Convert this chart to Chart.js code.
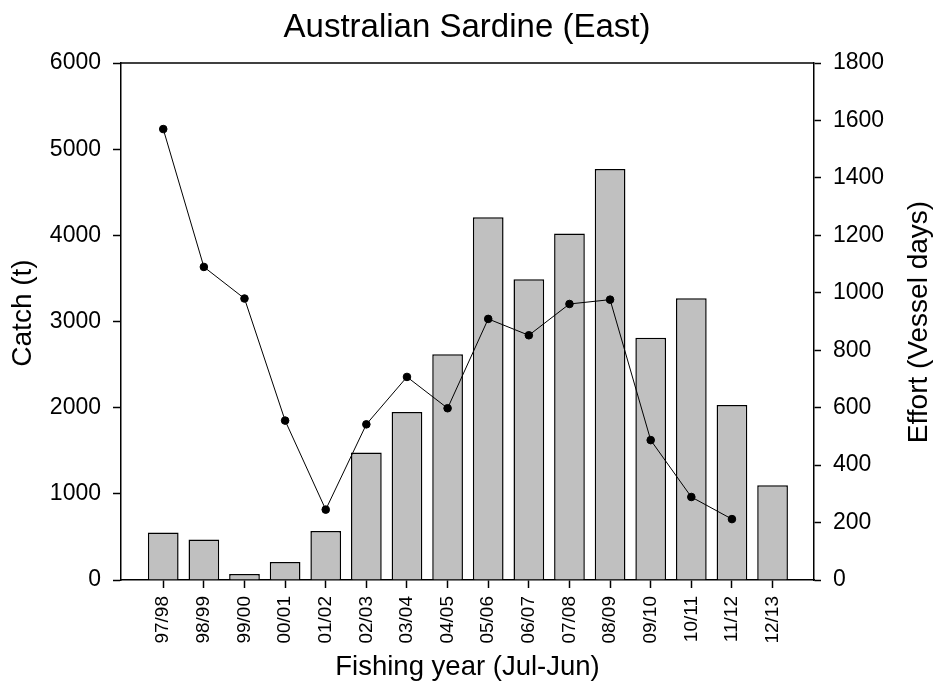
<!DOCTYPE html>
<html>
<head>
<meta charset="utf-8">
<title>Australian Sardine (East)</title>
<script src="https://cdn.jsdelivr.net/npm/chart.js@4.4.1/dist/chart.umd.min.js"></script>
<style>
html, body { margin: 0; padding: 0; background: #fff; }
</style>
</head>
<body>
<canvas id="grafico" width="934" height="684"></canvas>
<script>
var years = ['97/98', '98/99', '99/00', '00/01', '01/02', '02/03', '03/04', '04/05',
             '05/06', '06/07', '07/08', '08/09', '09/10', '10/11', '11/12', '12/13'];
var catchTonnes = [550, 470, 70, 210, 570, 1480, 1950, 2620, 4210, 3490, 4020, 4770, 2810, 3270, 2030, 1100];
var effortDays = [1570, 1090, 980, 555, 245, 542, 707, 598, 909, 852, 961, 976, 487, 289, 212, null];
var catchTicks = [0, 1000, 2000, 3000, 4000, 5000, 6000];
var effortTicks = [0, 200, 400, 600, 800, 1000, 1200, 1400, 1600, 1800];

var FONT = "'Liberation Sans', Arial, sans-serif";

// moldura de cima + títulos dos eixos y (lidos de baixo pra cima)
var extras = {
    id: 'extras',
    afterDraw: function (chart) {
        var ctx = chart.ctx;
        var area = chart.chartArea;
        ctx.save();
        ctx.strokeStyle = '#000';
        ctx.lineWidth = 1.5;
        ctx.beginPath();
        ctx.moveTo(area.left, area.top);
        ctx.lineTo(area.right, area.top);
        ctx.stroke();

        ctx.fillStyle = '#000';
        ctx.font = '28px ' + FONT;
        ctx.textAlign = 'center';
        ctx.textBaseline = 'middle';

        ctx.save();
        ctx.translate(23, 313);
        ctx.rotate(-Math.PI / 2);
        ctx.fillText('Catch (t)', 0, 0);
        ctx.restore();

        ctx.translate(919, 322);
        ctx.rotate(-Math.PI / 2);
        ctx.fillText('Effort (Vessel days)', 0, 0);
        ctx.restore();
    }
};

function pontos(valores) {
    return valores.map(function (v, i) { return { x: i, y: v }; });
}

function fixarTicks(lista) {
    return function (scale) {
        scale.ticks = lista.map(function (v) { return { value: v }; });
    };
}

function semMilhar(v) {
    return String(v);
}

var ctx = document.getElementById('grafico').getContext('2d');
new Chart(ctx, {
    type: 'bar',
    data: {
        datasets: [{
            type: 'line',
            label: 'Effort',
            data: pontos(effortDays),
            yAxisID: 'y1',
            borderColor: '#000',
            borderWidth: 1,
            pointRadius: 3.8,
            pointBackgroundColor: '#000',
            pointBorderColor: '#000',
            tension: 0,
            spanGaps: false,
            order: 1
        }, {
            label: 'Catch',
            data: pontos(catchTonnes),
            yAxisID: 'y',
            backgroundColor: '#c0c0c0',
            borderColor: '#000',
            borderWidth: 1.5,
            borderSkipped: 'bottom',
            barPercentage: 0.756,
            categoryPercentage: 1,
            order: 2
        }]
    },
    options: {
        responsive: false,
        animation: false,
        devicePixelRatio: 1,
        layout: { padding: 0 },
        plugins: {
            legend: { display: false },
            tooltip: { enabled: false },
            title: {
                display: true,
                text: 'Australian Sardine (East)',
                color: '#000',
                font: { family: FONT, size: 33, weight: 'normal' },
                padding: { top: 8, bottom: 15.4 }
            }
        },
        scales: {
            x: {
                type: 'linear',
                offset: false,
                min: -1.04,
                max: 16.02,
                afterBuildTicks: fixarTicks(years.map(function (y, i) { return i; })),
                afterFit: function (scale) { scale.height = 104; },
                ticks: {
                    callback: function (v) { return years[v]; },
                    minRotation: 90,
                    maxRotation: 90,
                    autoSkip: false,
                    color: '#000',
                    padding: 8,
                    font: { family: FONT, size: 19 }
                },
                grid: { drawOnChartArea: false, offset: false, tickLength: 8, color: '#000', tickWidth: 1.5 },
                border: { color: '#000', width: 1.5 },
                title: {
                    display: true,
                    text: 'Fishing year (Jul-Jun)',
                    color: '#000',
                    font: { family: FONT, size: 27.5 },
                    padding: { top: 0, bottom: 0 }
                }
            },
            y: {
                position: 'left',
                min: 0,
                max: 6000,
                afterBuildTicks: fixarTicks(catchTicks),
                afterFit: function (scale) { scale.width = 121; },
                ticks: {
                    callback: semMilhar,
                    color: '#000',
                    padding: 12,
                    font: { family: FONT, size: 23 }
                },
                grid: { drawOnChartArea: false, tickLength: 8, color: '#000', tickWidth: 1.5 },
                border: { color: '#000', width: 1.5 }
            },
            y1: {
                position: 'right',
                min: 0,
                max: 1800,
                afterBuildTicks: fixarTicks(effortTicks),
                afterFit: function (scale) { scale.width = 120; },
                ticks: {
                    callback: semMilhar,
                    color: '#000',
                    padding: 12,
                    font: { family: FONT, size: 23 }
                },
                grid: { drawOnChartArea: false, tickLength: 7, color: '#000', tickWidth: 1.5 },
                border: { color: '#000', width: 1.5 }
            }
        }
    },
    plugins: [extras]
});
</script>
</body>
</html>
